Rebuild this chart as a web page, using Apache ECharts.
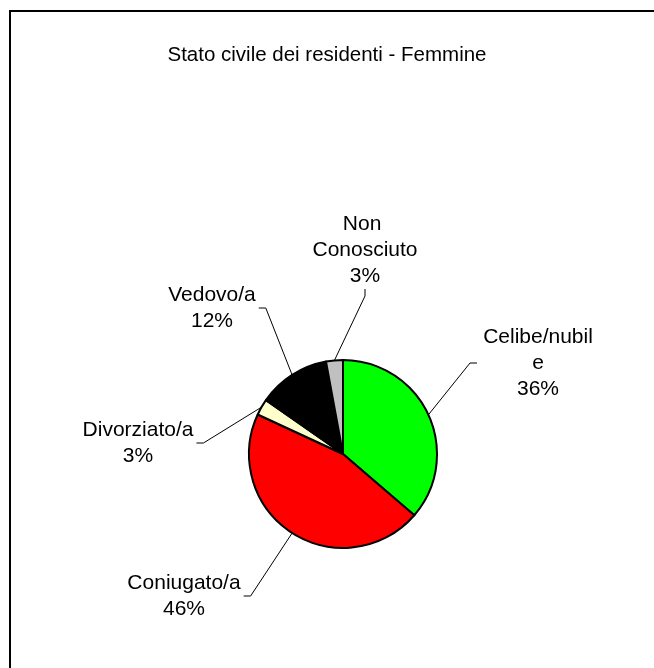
<!DOCTYPE html>
<html>
<head>
<meta charset="utf-8">
<script src="https://cdn.jsdelivr.net/npm/echarts@6/dist/echarts.min.js"></script>
<style>
  html, body { margin: 0; padding: 0; background: #fff; }
  #chart { width: 654px; height: 668px; }
</style>
</head>
<body>
<div id="chart"></div>
<script>
// dati
const categories = ['Celibe/nubile', 'Coniugato/a', 'Divorziato/a', 'Vedovo/a', 'Non Conosciuto']
const values = [36.3, 45.6, 2.8, 12.4, 2.9]
const colors = ['#00ff00', '#ff0000', '#ffffcc', '#000000', '#c0c0c0']

// posizione delle etichette (centro del blocco di testo)
const labelPos = [[538, 363], [184, 596], [138, 443], [212, 308], [365, 250]]
// come va a capo il testo di ogni etichetta
const labelWrap = ['breakAll', null, null, null, 'break']

const font = 'Liberation Sans, Arial, sans-serif'

const chart = echarts.init(document.getElementById('chart'))

const pieData = categories.map(function(name, i) {
  const item = { name: name, value: values[i], itemStyle: { color: colors[i] } }
  if (labelWrap[i]) {
    item.label = { width: 116, overflow: labelWrap[i] }
  }
  return item
})

chart.setOption({
  backgroundColor: '#ffffff',
  animation: false,
  title: {
    text: 'Stato civile dei residenti - Femmine',
    left: 'center',
    top: 40,
    textStyle: {
      fontFamily: font,
      fontWeight: 'normal',
      fontSize: 20.5,
      color: '#000'
    }
  },
  graphic: [{
    type: 'rect',
    shape: { x: 10, y: 11, width: 700, height: 700 },
    style: { fill: 'none', stroke: '#000', lineWidth: 2 },
    silent: true
  }],
  series: [{
    type: 'pie',
    center: [343, 454],
    radius: 94,
    startAngle: 90,
    clockwise: true,
    percentPrecision: 0,
    itemStyle: {
      borderColor: '#000',
      borderWidth: 2
    },
    label: {
      show: true,
      position: 'outside',
      formatter: '{b}\n{d}%',
      fontFamily: font,
      fontSize: 21,
      lineHeight: 26,
      color: '#000',
      align: 'center',
      padding: [0, 3]
    },
    labelLine: {
      show: true,
      length: 20,
      length2: 7,
      smooth: false,
      lineStyle: { color: '#000', width: 1 }
    },
    labelLayout: function(params) {
      const p = labelPos[params.dataIndex]
      return { x: p[0], y: p[1], align: 'center', verticalAlign: 'middle' }
    },
    emphasis: { disabled: true },
    data: pieData
  }]
})
</script>
</body>
</html>
